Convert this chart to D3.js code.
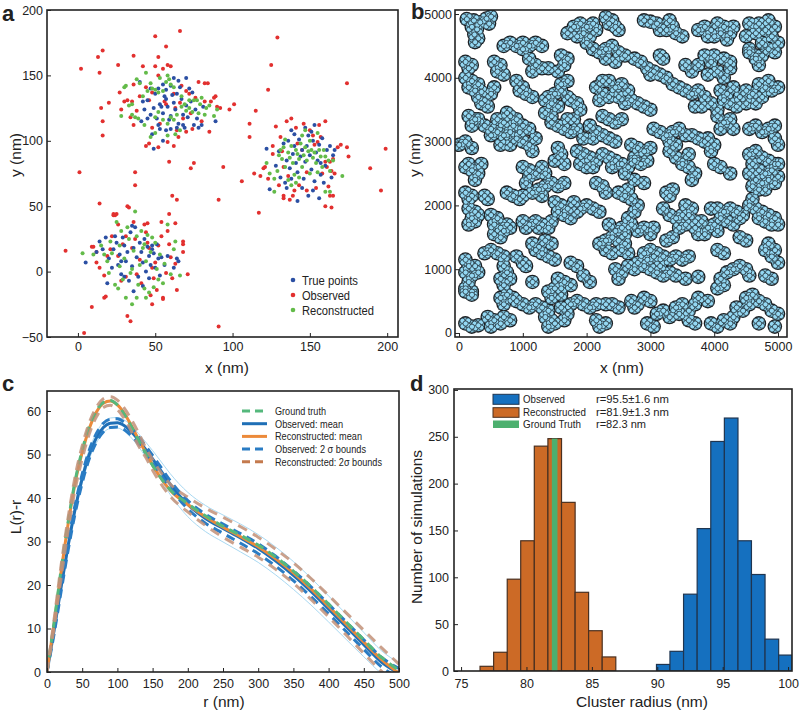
<!DOCTYPE html>
<html><head><meta charset="utf-8">
<script src="https://cdn.jsdelivr.net/npm/d3@7"></script>
<style>body{margin:0;background:#fff}svg{display:block;font-family:"Liberation Sans",Arial,Helvetica,sans-serif}</style>
</head><body><svg id="fig" width="800" height="715"></svg>
<script>
// ---------------- Panel a data (nm) ----------------
const aTrue = [
[40,145],[42,130],[43,124],[45,131],[47,120],[49,125],[50,136],[51,117],[52,112],[54,126],[55,121],[56,134],[57,132],[58,126],[59,116],[60,119],[61,135],[62,148],[62,129],[63,124],[65,113],[66,141],[67,132],[68,120],[70,148],[70,127],[71,118],[73,130],[74,137],[75,112],[76,124],[77,117],[78,110],[80,112],[81,126],[45,117],[41,115],[48,105],[49,94],[53,109],[57,108],[60,109],[64,110],[68,112],[55,143],[57,139],[52,140],[60,142],[65,146],[72,140],[47,140],[53,128],[64,136],[69,110],[89,115],[55,100],
[128,81],[122,94],[130,92],[133,98],[135,85],[136,100],[137,79],[138,108],[139,90],[140,96],[141,83],[142,76],[143,101],[144,88],[145,93],[146,71],[147,84],[148,96],[149,104],[150,89],[151,78],[152,100],[153,69],[154,91],[155,85],[156,97],[157,74],[158,102],[160,81],[161,93],[163,96],[165,89],[166,93],[142,54],[149,58],[156,56],[135,64],[145,64],[152,62],[164,72],[131,72],[124,63],[147,110],[153,112],[140,105],[134,68],[159,68],[138,71],[151,107],[157,83],
[5,7],[12,15],[14,23],[16,17],[18,26],[19,-9],[20,10],[22,3],[23,17],[25,22],[26,5],[27,13],[28,-2],[29,26],[30,20],[31,8],[32,15],[33,-7],[34,30],[35,4],[36,18],[37,34],[38,11],[39,-4],[40,22],[41,15],[42,7],[43,25],[44,0],[45,19],[46,12],[47,5],[48,20],[49,14],[50,3],[51,21],[52,10],[53,-3],[54,11],[56,5],[58,12],[64,10],[65,8],[62,3],[36,-15],[42,-11],[30,-4],[24,27],[35,35],[46,-5],[48,17],[28,8]];
const aObserved = [
[66,184],[50,180],[129,179],[16,169],[13,164],[36,165],[57,172],[52,164],[2,155],[14,152],[26,158],[125,158],[174,144],[15,125],[16,115],[16,104],[20,129],[1,76],[37,76],[37,66],[123,139],[115,123],[111,113],[101,128],[98,124],[89,134],[92,125],[82,144],[85,107],[106,69],[94,80],[73,79],[75,83],[59,84],[61,58],[64,55],[91,55],[199,94],[189,79],[196,62],[175,88],[174,95],[117,45],[160,50],[163,58],[133,58],[114,75],[111,103],[14,52],[32,50],[-8,16],[9,19],[12,15],[9,-27],[32,-34],[34,-38],[4,-47],[91,-42],[64,-14],[71,-2],[68,23],[68,21],[68,15],[63,37],[59,44],[54,38],[45,37],[23,44],[23,43],[17,-20],[48,-25],[55,-20],[51,-14],
[30,130],[32,131],[34,118],[36,112],[40,134],[42,157],[44,141],[46,131],[48,137],[50,157],[52,150],[53,113],[55,155],[57,128],[58,158],[60,157],[62,136],[63,125],[64,108],[65,103],[66,129],[67,142],[68,117],[70,138],[72,136],[73,121],[74,109],[76,133],[78,145],[80,115],[82,130],[84,144],[86,130],[88,133],[90,126],[48,110],[44,96],[46,98],[52,95],[58,99],[62,96],[70,107],[38,123],[35,130],[28,124],[27,137],[36,143],[56,130],
[121,80],[120,79],[118,73],[123,71],[126,90],[128,111],[131,103],[132,92],[133,80],[135,115],[136,73],[138,117],[140,62],[141,110],[143,66],[145,93],[146,113],[148,76],[150,108],[152,104],[154,64],[155,99],[157,103],[158,75],[160,115],[161,80],[163,84],[165,86],[164,77],[162,65],[165,58],[164,49],[166,75],[168,95],[170,97],[133,56],[137,55],[139,58],[148,62],[153,97],[142,98],[130,66],[156,112],[160,84],[126,96],
[10,19],[12,7],[14,3],[17,-3],[19,12],[21,17],[22,27],[24,43],[25,44],[26,36],[28,-7],[29,21],[31,27],[33,49],[35,18],[37,25],[38,-2],[40,9],[41,-9],[43,36],[44,30],[45,22],[46,18],[47,-18],[48,3],[50,7],[52,20],[54,27],[55,-21],[57,-1],[58,31],[59,21],[60,11],[61,-5],[63,6],[36,38],[26,12],[18,-19],[31,-4],[49,-5]];
const aReconstructed = [
[28,119],[30,141],[31,142],[33,127],[35,120],[37,118],[38,147],[40,144],[42,134],[44,152],[45,138],[47,144],[48,140],[50,139],[52,137],[53,148],[55,138],[57,145],[58,150],[59,147],[60,143],[62,141],[50,118],[52,122],[55,116],[58,113],[60,118],[62,116],[64,120],[67,126],[69,128],[70,123],[72,125],[74,122],[75,131],[77,131],[79,128],[80,133],[83,125],[85,127],[88,119],[90,124],[47,103],[50,106],[58,104],[63,105],[66,108],[43,112],[39,117],[35,128],[67,134],[72,131],[78,121],[82,120],
[122,83],[124,75],[127,71],[129,77],[130,89],[132,86],[133,95],[134,80],[136,91],[137,87],[138,96],[139,83],[140,74],[141,93],[142,90],[143,86],[144,98],[145,80],[146,89],[147,95],[148,85],[149,92],[150,75],[151,93],[152,87],[153,91],[154,83],[155,106],[156,93],[157,88],[158,80],[159,93],[160,88],[162,85],[163,77],[165,85],[171,73],[127,61],[160,61],[163,61],[141,68],[136,70],[150,100],[145,104],[134,101],[138,66],[143,72],[155,76],[131,93],[147,108],
[3,14],[10,13],[15,20],[17,13],[19,8],[20,-1],[21,23],[22,14],[24,-10],[25,38],[26,-13],[27,20],[28,31],[29,-6],[30,10],[31,-20],[32,34],[33,25],[34,-1],[35,-25],[36,16],[37,46],[38,27],[39,-10],[40,5],[41,31],[42,18],[43,-13],[44,8],[45,28],[46,-16],[47,15],[48,26],[49,-12],[50,22],[51,2],[52,-6],[53,13],[55,-9],[56,6],[58,36],[60,-2],[62,17],[63,23],[66,-3],[35,2],[43,21],[38,-20],[27,4],[44,-20]];
const aLegend = ["True points","Observed","Reconstructed"];
const aColors = ["#2b4fa3","#e2302f","#63bb49"];
const aXTicks = [0,50,100,150,200];
const aYTicks = [-50,0,50,100,150,200];

// ---------------- Panel b data (nm) ----------------
const bPoints = [
[120,4920],[230,4900],[330,4870],[430,4930],[500,4960],[470,4850],[200,4800],[280,4760],[240,4680],[300,4620],[250,4560],
[1700,4700],[1800,4800],[1900,4850],[2000,4800],[2100,4850],[1850,4650],[1950,4700],[2050,4650],[2150,4750],[2000,4550],[2100,4450],[2300,4950],[2400,4900],[2450,4800],[2500,4750],[2350,4850],
[2900,4900],[3000,4880],[3100,4850],[3200,4800],[3300,4900],[3350,4800],[3400,4700],[3250,4750],[3500,4650],[3150,4750],
[3150,4350],[3200,4300],
[3750,4750],[3850,4800],[3950,4750],[4050,4850],[4150,4800],[4250,4700],[4000,4650],[4100,4700],[4200,4600],[3900,4650],[4300,4800],
[4550,4850],[4700,4850],[4850,4900],[4950,4800],[4800,4750],[4650,4700],[4900,4650],[5000,4550],[4750,4550],[4850,4450],[4550,4450],[4650,4350],[4950,4400],[4500,4650],
[700,4500],[800,4550],[900,4500],[1000,4550],[1100,4500],[1200,4550],[1300,4500],[1000,4450],
[550,4250],[650,4200],[600,4100],[700,4050],
[1100,4300],[1200,4200],[1300,4150],[1400,4150],[1150,4100],
[100,4250],[200,4200],[150,4150],
[1600,4350],[1700,4300],[1650,4200],[1550,4100],
[2100,4450],[2200,4400],[2300,4450],[2400,4500],[2500,4400],[2600,4350],[2300,4300],[2450,4250],
[2750,4300],[2850,4250],[2950,4150],[3050,4100],[3150,4050],[3250,4000],[3350,3900],[3450,3850],[3550,3800],[3000,4050],
[3550,4200],[3650,4100],[3750,4200],[3850,4350],[3950,4250],[4050,4100],[4150,4000],[4250,4150],[3900,4050],[4000,4350],[4150,4300],[4250,4250],
[4550,4400],[4650,4300],[4750,4350],[4700,4200],
[100,4000],[200,3950],[300,3900],[150,3850],[250,3800],[350,3780],
[300,3700],[400,3650],[450,3550],[500,3750],[550,3850],[350,3600],
[900,3950],[1000,3850],[1050,3750],[950,3800],[1150,3700],
[1400,3700],[1500,3750],[1600,3800],[1700,3700],[1450,3600],[1550,3550],[1350,3650],[1600,3900],[1700,3950],
[1750,3650],[1850,3600],[1900,3500],
[2150,3850],[2250,3950],[2350,3950],[2450,3850],[2550,3900],[2650,3800],[2250,3750],[2350,3700],[2500,3700],[2700,3650],[2800,3600],[2900,3550],[3000,3500],[2600,3600],[2200,3650],
[3650,3750],[3750,3800],[3850,3700],[3950,3600],[4050,3500],[3700,3550],[3800,3550],
[4100,3800],[4200,3750],[4300,3850],[4400,3700],[4500,3800],[4600,3750],[4250,3600],[4350,3550],[4500,3600],[4150,3650],
[4700,3900],[4800,3850],[4900,3800],[5000,3850],[4750,3700],[4650,3600],[4850,3950],
[300,3350],[400,3250],[500,3200],[600,3150],[700,3300],[800,3400],[900,3350],[1000,3250],[1100,3200],[700,3100],[800,3150],[900,3050],[1000,3000],[1100,2950],[600,3350],[750,3450],[850,3250],[950,3150],[650,2950],[800,2950],[1200,3050],[1150,2850],[500,3100],
[150,3400],[250,3350],[200,3250],
[0,2950],[100,3000],[200,2900],
[1350,3450],[1450,3400],
[1450,3300],[1550,3250],[1650,3200],[1750,3150],[1850,3200],[1700,3350],[1800,3350],[1950,3050],
[2050,3250],[2150,3150],[2250,3100],[2350,3050],[2450,3000],[2100,3050],
[2250,3400],[2350,3350],[2450,3300],[2550,3350],
[2700,2950],[2800,2900],[2900,2850],[3000,2900],[2750,2750],
[3050,3200],[3150,3150],[3250,3100],[3350,3150],[3450,3200],[3550,3100],[3300,3000],[3400,2950],
[3300,2850],[3400,2750],[3500,2700],[3600,2800],
[3650,3100],[3750,3050],[3850,3000],
[3900,3050],[4000,2950],[3950,2850],
[4050,3400],[4150,3300],[4250,3350],[4100,3200],[4300,3200],
[4550,3200],[4650,3250],[4750,3150],[4850,3200],[4950,3250],
[4950,3050],[5000,2950],
[100,2600],[200,2550],[300,2500],[250,2400],[150,2650],[350,2650],
[1000,2600],[1100,2550],[1200,2500],[1300,2600],[1100,2450],[1050,2350],[1350,2500],
[1550,2900],[1600,2800],[1500,2700],[1650,2650],
[1850,2850],[1950,2800],[2050,2750],[2150,2700],[2250,2800],[2350,2750],[2450,2700],[1900,2650],[2000,2600],[2100,2600],[2400,2600],[2500,2650],
[2550,2650],[2650,2600],[2750,2700],[2850,2650],[2950,2700],[2600,2500],
[2750,2400],[2900,2350],
[3500,2650],[3600,2600],[3700,2500],[3650,2400],
[4000,2650],[4100,2600],[4250,2500],
[4550,2800],[4650,2850],[4750,2750],[4850,2700],[4950,2650],[4600,2650],[4700,2550],[4800,2500],[4900,2550],[5000,2450],[4550,2500],[4650,2400],[4750,2350],[4850,2400],[4950,2350],[4600,2300],[4700,2250],[4800,2250],[5000,2650],
[100,2200],[200,2150],[150,2100],
[400,2150],[450,2100],
[150,1950],[250,1900],[200,1800],[300,1850],[150,1700],[250,1750],
[500,1850],[600,1800],[550,1700],[650,1650],[550,1550],[650,1500],[700,1600],
[750,1700],[800,1650],
[750,2200],[850,2150],[950,2100],[1000,2150],
[1150,2200],[1250,2250],[1350,2300],[1450,2350],[1550,2300],[1650,2350],[1300,2150],
[1500,2050],[1600,2000],[1700,1950],[1550,1900],[1650,1850],[1750,1800],[1800,2050],
[1900,1950],[2000,2000],[2100,1950],[2200,1900],[1850,1900],
[2150,2350],[2250,2300],[2300,2200],
[1000,1750],[1100,1700],[1200,1750],[1300,1700],[1400,1650],[1050,1650],[1250,1650],[1450,1750],
[2500,2200],[2600,2150],[2700,2100],[2800,2000],[2650,2250],
[2350,1700],[2450,1600],[2550,1650],[2650,1800],[2750,1900],[2700,1700],[2800,1600],[2600,1550],
[2900,1650],[3000,1550],[3050,1650],
[3250,2200],[3350,2250],[3300,2150],
[3200,1950],[3300,1850],[3400,1800],[3500,1850],
[3550,2000],[3650,1950],[3600,1850],[3700,1750],[3550,1700],[3450,1650],[3700,1650],[3750,1550],
[3800,1750],[3900,1650],[4000,1700],[4050,1600],[3850,1550],
[3950,1950],[4050,1950],[4150,1900],[4250,1950],[4350,1900],[4450,1850],[4100,1800],[4200,1750],[4300,1700],[4400,1800],
[4550,2000],[4650,1950],[4750,1900],[4850,1850],[4950,1800],[5000,1700],[4700,1800],[4800,1750],[4600,2100],[4900,1700],
[4400,1500],[4500,1450],
[100,1150],[150,1050],[100,950],[200,900],[150,800],[100,700],[200,650],
[250,1050],[300,950],
[400,1250],[500,1300],[600,1250],[700,1200],
[700,1050],[750,950],[650,850],[800,850],[700,750],
[900,1200],[1000,1100],[1050,1050],
[1150,1400],[1250,1350],[1350,1450],[1450,1400],[1300,1250],[1400,1200],[1500,1150],[1200,1300],
[1150,800],
[1750,1100],[1850,1050],
[1550,850],[1650,800],[1750,750],[1600,700],
[1950,900],[2050,800],
[2200,1400],[2300,1450],[2400,1500],[2500,1450],[2600,1400],[2300,1300],[2400,1250],[2550,1300],[2650,1250],
[2450,1000],[2550,950],[2650,1050],[2750,1000],[2500,850],
[2800,1100],[2900,1050],[3000,1000],[3100,950],[3200,900],[2950,1150],[3150,1050],[3300,950],[3400,900],
[2900,1250],[3000,1300],[3100,1250],[3200,1200],[3300,1150],[3400,1200],[3500,1150],[3600,1200],[3050,1200],
[3250,1450],[3350,1500],
[3550,850],[3750,880],
[4050,1300],[4150,1250],
[4100,850],[4200,950],[4300,1000],[4400,1050],[4500,1000],[4550,900],[4150,750],[4050,700],
[4850,1400],[4950,1300],[4900,1200],[5000,1100],[4800,1300],
[4800,900],[4900,850],
[100,650],[200,600],
[100,150],[200,100],[300,120],
[450,250],[550,200],[650,150],[700,250],[800,200],[500,100],
[650,550],[750,600],[850,550],[900,500],[700,450],
[1000,450],[1100,400],[1200,450],[1300,400],[1400,350],
[1350,250],[1450,200],[1400,100],[1500,150],
[1400,650],[1500,700],[1600,600],[1450,550],
[1600,400],[1700,300],[1650,200],[1750,450],
[1850,500],[1950,450],[2050,400],[2150,450],
[2150,200],[2200,100],[2300,150],
[2300,450],[2400,450],[2500,400],
[2700,500],[2800,450],[2900,550],[3000,500],[2750,400],
[2950,150],[3050,100],
[3100,300],[3200,350],[3300,250],
[3400,400],[3500,450],[3600,350],[3700,450],[3450,300],
[3600,200],[3700,150],
[3750,550],[3900,500],
[3950,150],[4050,100],[4150,200],[4250,150],[4300,250],
[4350,400],[4450,350],[4550,450],
[4500,550],[4600,600],[4700,500],[4800,450],
[4900,350],[5000,300],[4950,100],
[4700,150]];
const bTicks = [0,1000,2000,3000,4000,5000];

// ---------------- Panel c data ----------------
const cR = [0,10,20,30,40,50,60,70,80,90,100,110,120,130,140,150,160,175,200,225,250,275,300,325,350,375,400,425,450,475,500];
const cGround = [0,11.3,23.5,34.5,44,51,56.5,60,62,62.4,61.4,59.2,56.4,53.3,50.3,47.5,45,41.9,38.7,35.9,33.5,31.4,29.2,26.4,23.2,19.6,15.6,11.5,7.4,3.4,0.4];
const cObsMean = [0,9.5,19.5,29,37.5,44.5,50,53.8,56.2,57.2,57.3,56.6,55.2,53.3,51.2,49,46.7,43.2,38.5,35.3,33,30.8,28.4,25.5,22.2,18.5,14.5,10.4,6.3,2.3,-0.3];
const cRecMean = [0,11,23,34,43.5,50.5,56,59.7,61.8,62.3,61.4,59.4,56.6,53.5,50.5,47.6,45,41.8,38.5,35.7,33.3,31.1,28.8,26,22.8,19.1,15.1,11,6.9,2.9,-0.3];
const cObsUp = [0,10.3,20.5,30,38.5,45.5,51,54.8,57.2,58.1,58.2,57.4,56,54.1,52,49.8,47.5,44,39.4,36.3,34,31.8,29.5,26.6,23.3,19.6,15.6,11.5,7.4,3.4,0.8];
const cObsLo = [0,8.7,18.5,28,36.5,43.5,49,52.8,55.2,56.2,56.3,55.7,54.3,52.5,50.4,48.1,45.8,42.3,37.5,34.2,31.9,29.6,27.2,24.3,21,17.3,13.4,9.3,5.2,1.2,-1.4];
const cObsBandUp = [0,10.5,20.5,30,38.5,45.6,51.1,55,57.4,58.4,58.5,57.9,56.6,54.8,52.9,50.9,48.8,45.6,41.3,38.3,36.1,34,31.6,28.7,25.4,21.6,17.5,13.3,9.1,4.9,2.1];
const cObsBandLo = [0,8.5,18.5,28,36.5,43.4,48.9,52.6,55,56,56.1,55.3,53.8,51.8,49.5,47.1,44.6,40.8,35.7,32.3,29.9,27.6,25.2,22.3,19,15.4,11.5,7.5,3.5,-0.3,-2.7];
const cRecUp = [0,12,24.5,35.5,45,52,57.3,60.8,62.8,63.3,62.5,60.6,58,55,51.6,48.8,46.3,43.2,40.2,37.7,35.6,33.4,31,28.2,25.1,21.5,17.6,13.6,9.6,5.6,1.8];
const cRecLo = [0,10,21.5,32.5,42,49,54.7,58.6,60.8,61.3,60.3,58.2,55.3,52,49.4,46.4,43.7,40.4,36.8,33.7,31,28.7,26.4,23.6,20.4,16.7,12.7,8.5,4.3,0.2,-3];
const cLegend = ["Ground truth","Observed: mean","Reconstructed: mean","Observed: 2 \u03c3 bounds","Reconstructed: 2\u03c3 bounds"];
const cXTicks = [0,50,100,150,200,250,300,350,400,450,500];
const cYTicks = [0,10,20,30,40,50,60];

// ---------------- Panel d data ----------------
const dRecEdges = [76.45,77.49,78.53,79.56,80.60,81.64,82.68,83.72,84.75,85.79,86.83];
const dRecCounts = [5,20,98,139,240,248,180,84,43,15];
const dObsEdges = [89.94,90.97,92.01,93.05,94.09,95.13,96.17,97.20,98.24,99.28,100.32];
const dObsCounts = [7,21,82,152,245,270,139,103,34,17];
const dGtEdges = [81.94,82.37];
const dGtCounts = [248];
const dLegend = ["Observed","Reconstructed","Ground Truth"];
const dLegendStats = ["r=95.5\u00b11.6 nm","r=81.9\u00b11.3 nm","r=82.3 nm"];
const dXTicks = [75,80,85,90,95,100];
const dYTicks = [0,50,100,150,200,250,300];

// ---------------- Drawing ----------------
const svg = d3.select("#fig");
const INK = "#222";
const TICKFS = "12.5px";

function axes(g, x, y, xt, yt, padX, padY) {
  const [x0, x1] = x.range(), [y1, y0] = y.range();
  const ax = g.append("g").attr("transform", `translate(0,${y1})`)
    .call(d3.axisBottom(x).tickValues(xt).tickSize(-4).tickPadding(padX).tickFormat(d3.format("d")));
  const ay = g.append("g").attr("transform", `translate(${x0},0)`)
    .call(d3.axisLeft(y).tickValues(yt).tickSize(-4).tickPadding(padY).tickFormat(d3.format("d")));
  [ax, ay].forEach(a => {
    a.select(".domain").remove();
    a.selectAll(".tick line").attr("stroke", INK).attr("stroke-width", 1);
    a.selectAll(".tick text").attr("fill", INK).style("font-size", TICKFS).style("font-family", '"Liberation Sans",Arial,sans-serif');
  });
  g.append("rect").attr("x", x0).attr("y", y0).attr("width", x1 - x0).attr("height", y1 - y0)
    .attr("fill", "none").attr("stroke", INK).attr("stroke-width", 1.6);
}
function clip(id, x, y) {
  const [x0, x1] = x.range(), [y1, y0] = y.range();
  svg.append("clipPath").attr("id", id).append("rect")
    .attr("x", x0).attr("y", y0).attr("width", x1 - x0).attr("height", y1 - y0);
}
function label(t, x, y, size, opts = {}) {
  const e = svg.append("text").attr("x", x).attr("y", y).text(t)
    .attr("fill", opts.fill || INK).style("font-size", size)
    .attr("text-anchor", opts.anchor || "middle");
  if (opts.bold) e.style("font-weight", "bold");
  if (opts.rot) e.attr("transform", `rotate(-90,${x},${y})`);
  return e;
}
function fitText(g, t, x, y, size, width) {
  return g.append("text").attr("x", x).attr("y", y).text(t).attr("fill", INK)
    .style("font-size", size).attr("textLength", width).attr("lengthAdjust", "spacingAndGlyphs");
}

// Panel a
{
  const x = d3.scaleLinear().domain([-20, 207]).range([47, 398]);
  const y = d3.scaleLinear().domain([-50, 200]).range([337, 10]);
  clip("clipA", x, y);
  const g = svg.append("g");
  const pg = g.append("g").attr("clip-path", "url(#clipA)");
  [[aObserved, 1], [aTrue, 0], [aReconstructed, 2]].forEach(([arr, ci]) => {
    pg.selectAll(null).data(arr).enter().append("circle")
      .attr("cx", d => x(d[0])).attr("cy", d => y(d[1])).attr("r", 2).attr("fill", aColors[ci]);
  });
  axes(g, x, y, aXTicks, aYTicks, 5, 4);
  const legW = [56, 48, 72];
  aLegend.forEach((t, i) => {
    g.append("circle").attr("cx", 293).attr("cy", 280 + i * 15).attr("r", 2.3).attr("fill", aColors[i]);
    fitText(g, t, 302, 284.5 + i * 15, "12px", legW[i]);
  });
  label("y (nm)", 21, 155, "15.5px", { rot: true });
  label("x (nm)", 227, 373, "15.5px");
  label("a", 2, 21, "22px", { bold: true, anchor: "start" });
}

// Panel b
{
  const x = d3.scaleLinear().domain([-63, 5141]).range([455, 787]);
  const y = d3.scaleLinear().domain([-63, 5063]).range([337, 10]);
  clip("clipB", x, y);
  const g = svg.append("g");
  const pg = g.append("g").attr("clip-path", "url(#clipB)");
  const px = d => x(d[0]), py = d => y(d[1]);
  pg.selectAll(null).data(bPoints).enter().append("circle")
    .attr("cx", px).attr("cy", py).attr("r", 7.3).attr("fill", "#1c1f22");
  pg.selectAll(null).data(bPoints).enter().append("circle")
    .attr("cx", px).attr("cy", py).attr("r", 6.0).attr("fill", "#7fbfd8");
  const sub = [[-2.9, -2.6], [2.8, -2.9], [3.1, 2.3], [-2.7, 2.8], [0.2, 0.1]];
  sub.forEach(([dx, dy]) => {
    pg.selectAll(null).data(bPoints).enter().append("circle")
      .attr("cx", d => px(d) + dx).attr("cy", d => py(d) + dy).attr("r", 2.6)
      .attr("fill", "#94d8f3").attr("stroke", "#23323b").attr("stroke-width", 0.8);
  });
  axes(g, x, y, bTicks, bTicks, 5, 3);
  label("y (nm)", 420, 155, "15.5px", { rot: true });
  label("x (nm)", 622, 373, "15.5px");
  label("b", 411, 19, "22px", { bold: true, anchor: "start" });
}

// Panel c
{
  const x = d3.scaleLinear().domain([0, 500]).range([47, 399]);
  const y = d3.scaleLinear().domain([0, 64.6]).range([672, 391]);
  clip("clipC", x, y);
  const g = svg.append("g");
  const pg = g.append("g").attr("clip-path", "url(#clipC)");
  const line = vals => d3.line().curve(d3.curveMonotoneX).x((d, i) => x(cR[i])).y(d => y(d))(vals);
  const styles = {
    gt: { c: "#55b87c", w: 3, dash: "9,6" },
    om: { c: "#1f6fb6", w: 3, dash: null },
    rm: { c: "#ec8a3a", w: 3, dash: null },
    ob: { c: "#2a7cc4", w: 3, dash: "9,6" },
    rb: { c: "#c29078", w: 3, dash: "10,7", op: 0.85 }
  };
  const draw = (vals, s) => pg.append("path").attr("d", line(vals)).attr("fill", "none")
    .attr("stroke", s.c).attr("stroke-width", s.w).attr("stroke-dasharray", s.dash)
    .attr("opacity", s.op || 1);
  [cObsBandUp, cObsBandLo].forEach(v => draw(v, { c: "#a9d9f2", w: 1, dash: null }));
  draw(cObsMean, styles.om);
  draw(cRecMean, styles.rm);
  draw(cObsUp, styles.ob);
  draw(cObsLo, styles.ob);
  draw(cGround, styles.gt);
  draw(cRecUp, styles.rb);
  draw(cRecLo, styles.rb);
  axes(g, x, y, cXTicks, cYTicks, 7, 6);
  const legStyles = [styles.gt, styles.om, styles.rm, styles.ob, { c: "#c47a4e", w: 3, dash: "9,6" }];
  const legW = [51, 68, 87, 91, 107];
  cLegend.forEach((t, i) => {
    const yy = 411 + i * 12.7;
    const s = legStyles[i];
    g.append("line").attr("x1", 242).attr("x2", 267).attr("y1", yy).attr("y2", yy)
      .attr("stroke", s.c).attr("stroke-width", 3).attr("stroke-dasharray", s.dash ? "8,5" : null);
    fitText(g, t, 275, yy + 4, "10.5px", legW[i]);
  });
  label("L(r)-r", 21, 517, "15.5px", { rot: true });
  label("r (nm)", 224, 707, "15.5px");
  label("c", 2, 391, "22px", { bold: true, anchor: "start" });
}

// Panel d
{
  const x = d3.scaleLinear().domain([74.46, 100.3]).range([454, 792]);
  const y = d3.scaleLinear().domain([0, 301]).range([671, 389]);
  clip("clipD", x, y);
  const g = svg.append("g");
  const pg = g.append("g").attr("clip-path", "url(#clipD)");
  const bars = (edges, counts, fill, stroke) => {
    pg.selectAll(null).data(counts).enter().append("rect")
      .attr("x", (d, i) => x(edges[i])).attr("width", (d, i) => x(edges[i + 1]) - x(edges[i]))
      .attr("y", d => y(d)).attr("height", d => y(0) - y(d))
      .attr("fill", fill).attr("stroke", stroke).attr("stroke-width", stroke ? 1.2 : 0);
  };
  bars(dRecEdges, dRecCounts, "#cc6a26", "#4a3020");
  bars(dObsEdges, dObsCounts, "#1570bf", "#1f3550");
  bars(dGtEdges, dGtCounts, "#4db06f", null);
  axes(g, x, y, dXTicks, dYTicks, 8, 5);
  const fills = ["#1570bf", "#cc6a26", "#4db06f"];
  const strokes = ["#1f3550", "#4a3020", null];
  const boxY = [394.3, 407.7, 420.5], boxH = [10, 9.6, 7.5];
  const nameW = [42, 63, 58], statW = [73, 73, 50];
  dLegend.forEach((t, i) => {
    g.append("rect").attr("x", 493).attr("y", boxY[i]).attr("width", 26).attr("height", boxH[i])
      .attr("fill", fills[i]).attr("stroke", strokes[i]).attr("stroke-width", strokes[i] ? 1 : 0);
    fitText(g, t, 523, 403 + i * 12.7, "11px", nameW[i]);
    fitText(g, dLegendStats[i], 596, 403 + i * 12.7, "11px", statW[i]);
  });
  label("Number of simulations", 422, 527, "15.5px", { rot: true });
  label("Cluster radius (nm)", 642, 707, "15.5px");
  label("d", 410, 391, "22px", { bold: true, anchor: "start" });
}
</script></body></html>
